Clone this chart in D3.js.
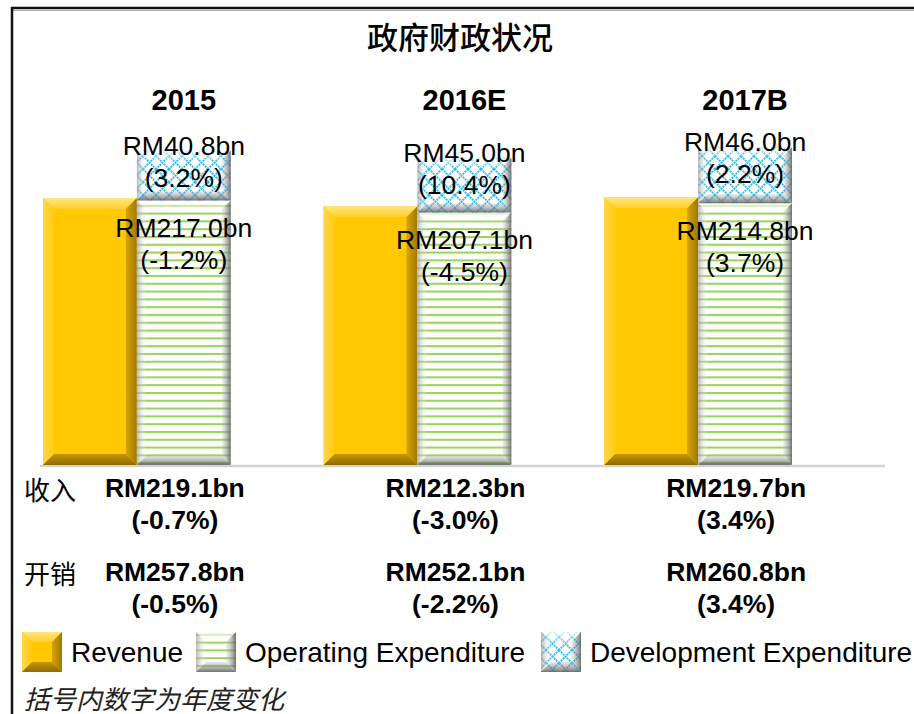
<!DOCTYPE html>
<html><head><meta charset="utf-8">
<script src="https://cdn.jsdelivr.net/npm/d3@7"></script>
<style>
html,body{margin:0;padding:0;background:#fff;}
svg{display:block;}
</style></head>
<body>
<svg id="chart" width="914" height="714"></svg>
<script>
// ---- data ----
const title = "政府财政状况";
const categories = ["2015", "2016E", "2017B"];
const revenue = [219.1, 212.3, 219.7];
const revenueChange = ["-0.7%", "-3.0%", "3.4%"];
const operatingExp = [217.0, 207.1, 214.8];
const operatingChange = ["-1.2%", "-4.5%", "3.7%"];
const developmentExp = [40.8, 45.0, 46.0];
const developmentChange = ["3.2%", "10.4%", "2.2%"];
const totalExpenditure = [257.8, 252.1, 260.8];
const totalChange = ["-0.5%", "-2.2%", "3.4%"];
const rowLabels = ["收入", "开销"];
const seriesNames = ["Revenue", "Operating Expenditure", "Development Expenditure"];
const footnote = "括号内数字为年度变化";

const fmt = v => "RM" + v.toFixed(1) + "bn";
const pct = c => "(" + c + ")";

const svg = d3.select("#chart");
const W = 914, H = 714;
svg.append("rect").attr("width", W).attr("height", H).attr("fill", "#fff");

const latin = "'Liberation Sans', Arial, sans-serif";
const cjk = "'Noto Sans CJK SC', 'Liberation Sans', sans-serif";

// ---- defs ----
const defs = svg.append("defs");
const stripe = defs.append("pattern").attr("id", "stripes")
  .attr("patternUnits", "userSpaceOnUse").attr("width", 8).attr("height", 7.8);
stripe.append("rect").attr("width", 8).attr("height", 7.8).attr("fill", "#fff");
stripe.append("rect").attr("y", 2).attr("width", 8).attr("height", 2).attr("fill", "#98D257");

const hatch = defs.append("pattern").attr("id", "hatch")
  .attr("patternUnits", "userSpaceOnUse").attr("width", 13).attr("height", 13);
hatch.append("rect").attr("width", 13).attr("height", 13).attr("fill", "#fff");
hatch.append("path").attr("d", "M0,0L13,13M13,0L0,13")
  .attr("stroke", "#2DBDEE").attr("stroke-width", 1.8).attr("stroke-dasharray", "2,0.8");

function grad(id, x1, y1, x2, y2, stops) {
  const g = defs.append("linearGradient").attr("id", id)
    .attr("x1", x1).attr("y1", y1).attr("x2", x2).attr("y2", y2);
  stops.forEach(s => g.append("stop").attr("offset", s[0]).attr("stop-color", s[1]).attr("stop-opacity", s[2]));
}
// gold bevel gradients
grad("gTop", 0, 0, 0, 1, [[0, "#FFE680", 1], [1, "#FFCF2A", 1]]);
grad("gLeft", 0, 0, 1, 0, [[0, "#FFD64A", 1], [1, "#FFCB10", 1]]);
grad("gRight", 0, 0, 1, 0, [[0, "#D9A400", 1], [1, "#9E7800", 1]]);
grad("gBot", 0, 0, 0, 1, [[0, "#C89400", 1], [1, "#8F6C00", 1]]);
// grey bevel gradients for patterned bars
grad("pTop", 0, 0, 0, 1, [[0, "#ffffff", 0.75], [1, "#ffffff", 0.2]]);
grad("pLeft", 0, 0, 1, 0, [[0, "#9a9a9a", 0.7], [1, "#ffffff", 0.1]]);
grad("pRight", 0, 0, 1, 0, [[0, "#bdbdbd", 0.2], [1, "#5a5a5a", 0.85]]);
grad("pBot", 0, 0, 0, 1, [[0, "#b0b0b0", 0.3], [1, "#5a5a5a", 0.85]]);

function bevelBar(g, x, y, w, h, fill, b, style) {
  g.append("rect").attr("x", x).attr("y", y).attr("width", w).attr("height", h).attr("fill", fill);
  b = Math.min(b, w / 2, h / 2);
  const pts = {
    top: [[x, y], [x + w, y], [x + w - b, y + b], [x + b, y + b]],
    left: [[x, y], [x + b, y + b], [x + b, y + h - b], [x, y + h]],
    right: [[x + w, y], [x + w, y + h], [x + w - b, y + h - b], [x + w - b, y + b]],
    bot: [[x, y + h], [x + b, y + h - b], [x + w - b, y + h - b], [x + w, y + h]]
  };
  const ids = style === "gold"
    ? { top: "gTop", left: "gLeft", right: "gRight", bot: "gBot" }
    : { top: "pTop", left: "pLeft", right: "pRight", bot: "pBot" };
  Object.keys(pts).forEach(k => {
    g.append("polygon").attr("points", pts[k].map(p => p.join(",")).join(" "))
      .attr("fill", "url(#" + ids[k] + ")");
  });
}

// ---- frame ----
svg.append("line").attr("x1", 12).attr("x2", W).attr("y1", 10.5).attr("y2", 10.5)
  .attr("stroke", "#aaa").attr("stroke-width", 1);
svg.append("path").attr("d", `M12,${H} L12,8 L${W},8`)
  .attr("fill", "none").attr("stroke", "#111").attr("stroke-width", 2.5);

// ---- title ----
svg.append("text").attr("x", 460).attr("y", 49).attr("text-anchor", "middle")
  .attr("font-family", cjk).attr("font-weight", 500).attr("font-size", 31).attr("fill", "#000").text(title);

// ---- scales ----
const baseY = 465;
const x = d3.scaleBand().domain(categories).range([43, 792]).paddingInner(93 / 281).paddingOuter(0);
const sub = d3.scaleBand().domain(["rev", "exp"]).range([0, x.bandwidth()]);
const y = d3.scaleLinear().domain([0, 300]).range([baseY, baseY - 300 * 1.2187]);

// baseline
svg.append("line").attr("x1", 40).attr("x2", 885).attr("y1", baseY + 1).attr("y2", baseY + 1)
  .attr("stroke", "#d4d4d4").attr("stroke-width", 2.5);

const bars = svg.append("g");
categories.forEach((c, i) => {
  const gx = x(c);
  const bw = sub.bandwidth();
  const ry = y(revenue[i]);
  bevelBar(bars, gx + sub("rev"), ry, bw, baseY - ry, "#FFC800", 11, "gold");
  const oy = y(operatingExp[i]);
  bevelBar(bars, gx + sub("exp"), oy, bw, baseY - oy, "url(#stripes)", 9, "pat");
  const dy = y(operatingExp[i] + developmentExp[i]);
  bevelBar(bars, gx + sub("exp"), dy, bw, oy - dy, "url(#hatch)", 9, "pat");
});

// ---- headers and labels ----
const lab = svg.append("g").attr("font-family", latin).attr("fill", "#000");
categories.forEach((c, i) => {
  const cx = x(c) + sub("exp") + sub.bandwidth() / 2;
  lab.append("text").attr("x", cx).attr("y", 110).attr("text-anchor", "middle")
    .attr("font-weight", "bold").attr("font-size", 29).text(c);
  const dy = y(operatingExp[i] + developmentExp[i]);
  const oy = y(operatingExp[i]);
  const t = (txt, yy) => lab.append("text").attr("x", cx).attr("y", yy)
    .attr("text-anchor", "middle").attr("dominant-baseline", "central")
    .attr("font-size", 26.5).text(txt);
  t(fmt(developmentExp[i]), dy - 5);
  t(pct(developmentChange[i]), dy + 27);
  t(fmt(operatingExp[i]), oy + 27.5);
  t(pct(operatingChange[i]), oy + 59.5);

  const bx = x(c) + x.bandwidth() / 2 + 38;
  const bt = (txt, yy) => lab.append("text").attr("x", bx).attr("y", yy)
    .attr("text-anchor", "middle").attr("dominant-baseline", "central")
    .attr("font-weight", "bold").attr("font-size", 26.5).text(txt);
  bt(fmt(revenue[i]), 488);
  bt(pct(revenueChange[i]), 520);
  bt(fmt(totalExpenditure[i]), 572);
  bt(pct(totalChange[i]), 604);
});
rowLabels.forEach((r, k) => {
  svg.append("text").attr("x", 24).attr("y", [488, 572][k]).attr("dominant-baseline", "central")
    .attr("font-family", cjk).attr("font-size", 26).attr("fill", "#000").text(r);
});

// ---- legend ----
const legend = svg.append("g");
const legItems = [
  { x: 22, fill: "#FFC800", style: "gold", tx: 71 },
  { x: 196, fill: "url(#stripes)", style: "pat", tx: 245 },
  { x: 541, fill: "url(#hatch)", style: "pat", tx: 590 }
];
legItems.forEach((it, k) => {
  bevelBar(legend, it.x, 632, 40, 40, it.fill, 10, it.style);
  legend.append("text").attr("x", it.tx).attr("y", 652).attr("dominant-baseline", "central")
    .attr("font-family", latin).attr("font-size", 28).attr("fill", "#000").text(seriesNames[k]);
});

// ---- footnote ----
svg.append("text").attr("x", 24).attr("y", 697).attr("dominant-baseline", "central")
  .attr("font-family", cjk).attr("font-style", "italic").attr("font-size", 26)
  .attr("fill", "#222").text(footnote);
</script>
</body></html>
